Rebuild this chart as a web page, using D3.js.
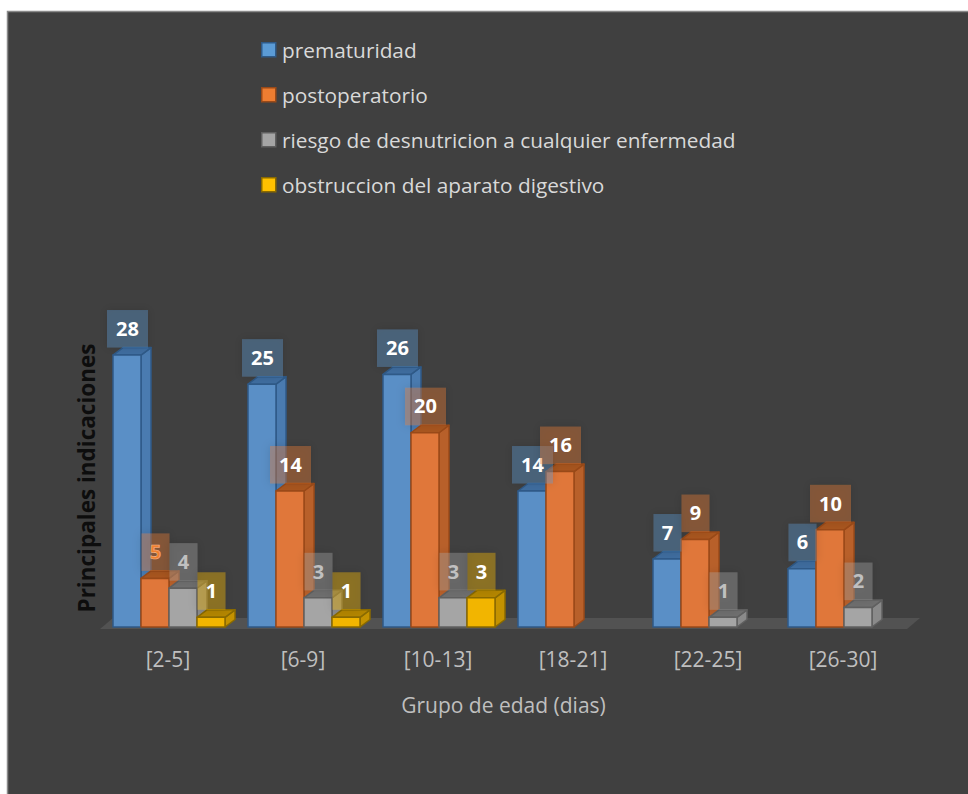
<!DOCTYPE html>
<html>
<head>
<meta charset="utf-8">
<script src="https://cdn.jsdelivr.net/npm/d3@7"></script>
<style>
  html, body { margin: 0; padding: 0; background: #ffffff; }
  svg { display: block; }
  text { font-family: "Open Sans", Lato, sans-serif; }
</style>
</head>
<body>
<svg id="chart" width="968" height="794"></svg>
<script>
// Age groups (days) and the four indication series
const categories = ["[2-5]", "[6-9]", "[10-13]", "[18-21]", "[22-25]", "[26-30]"];
const seriesNames = [
  "prematuridad",
  "postoperatorio",
  "riesgo de desnutricion a cualquier enfermedad",
  "obstruccion del aparato digestivo"
];
const prematuridad   = [28, 25, 26, 14, 7, 6];
const postoperatorio = [5, 14, 20, 16, 9, 10];
const riesgo         = [4, 3, 3, null, 1, 2];
const obstruccion    = [1, 1, 3, null, null, null];
const seriesValues = [prematuridad, postoperatorio, riesgo, obstruccion];

const xTitle = "Grupo de edad (dias)";
const yTitle = "Principales indicaciones";

// Face colours per series: front, side, top, edge, label box, label text
const palette = [
  { front: "#5a8fc6", side: "#4a7bb0", top: "#3f6d9f", edge: "#2f5a88", box: "#5b9bd5", text: "#ffffff" },
  { front: "#e0773a", side: "#b8602a", top: "#a9561f", edge: "#9a4a18", box: "#ed7d31", text: "#ffffff" },
  { front: "#a5a5a5", side: "#8a8a8a", top: "#6f6f6f", edge: "#606060", box: "#a5a5a5", text: "#c0c0c0" },
  { front: "#f2b500", side: "#c49200", top: "#b48600", edge: "#8a6a00", box: "#ffc000", text: "#ffffff" }
];

const svg = d3.select("#chart");
const W = 968, H = 794;

// Panel background with its thin border
svg.append("rect")
  .attr("x", 7.5).attr("y", 11.5)
  .attr("width", W).attr("height", H)
  .attr("fill", "#404040")
  .attr("stroke", "#8a8a8a").attr("stroke-width", 1.5);

const base = 627;            // front baseline of the bars
const depth = { dx: 10, dy: 7.5 };

const x = d3.scaleBand().domain(categories).range([101.5, 911.5]);
const inner = d3.scaleBand().domain(d3.range(seriesNames.length))
  .range([11.5, 11.5 + 28 * seriesNames.length]);
const y = d3.scaleLinear().domain([0, 30]).range([base, base - 291.4]);

const defs = svg.append("defs");
const shadow = defs.append("filter").attr("id", "soft")
  .attr("x", "-40%").attr("y", "-40%").attr("width", "180%").attr("height", "180%");
shadow.append("feDropShadow").attr("dx", 0).attr("dy", 0)
  .attr("stdDeviation", 5).attr("flood-color", "#000").attr("flood-opacity", 0.35);

// Floor plane
const [r0, r1] = x.range();
const floorD = { dx: 13, dy: 11 };
svg.append("polygon")
  .attr("points", [
    [r0 - 1.5, base + 2],
    [r0 - 1.5 + floorD.dx, base + 2 - floorD.dy],
    [r1 + 8.5, base + 2 - floorD.dy],
    [r1 + 8.5 - floorD.dx, base + 2]
  ].map(p => p.join(",")).join(" "))
  .attr("fill", "#525252");

// Flatten into drawable points, left to right so nearer faces overlap correctly
const points = [];
categories.forEach((c, ci) => {
  seriesValues.forEach((vals, si) => {
    const v = vals[ci];
    if (v == null) return;
    points.push({ c, si, v, x0: x(c) + inner(si), w: inner.bandwidth() });
  });
});

const bars = svg.append("g").attr("class", "bars");
points.forEach(p => {
  const col = palette[p.si];
  const x0 = p.x0, x1 = p.x0 + p.w, yt = y(p.v);
  const g = bars.append("g").attr("stroke", col.edge).attr("stroke-width", 1.5)
    .attr("stroke-linejoin", "round");
  // side face
  g.append("polygon")
    .attr("points", [[x1, yt], [x1 + depth.dx, yt - depth.dy], [x1 + depth.dx, base - depth.dy], [x1, base]]
      .map(q => q.join(",")).join(" "))
    .attr("fill", col.side);
  // top face
  g.append("polygon")
    .attr("points", [[x0, yt], [x0 + depth.dx, yt - depth.dy], [x1 + depth.dx, yt - depth.dy], [x1, yt]]
      .map(q => q.join(",")).join(" "))
    .attr("fill", col.top);
  // front face
  g.append("rect")
    .attr("x", x0).attr("y", yt)
    .attr("width", p.w).attr("height", base - yt)
    .attr("fill", col.front);
});

// Value labels in tinted boxes above each bar
const labels = svg.append("g").attr("class", "labels");
points.forEach(p => {
  const col = palette[p.si];
  const txt = String(p.v);
  const bw = txt.length > 1 ? 41 : 28;
  const bh = 37.5;
  const cx = p.x0 + p.w / 2 + 0.5;
  const yb = y(p.v) - depth.dy;
  const g = labels.append("g");
  g.append("rect")
    .attr("x", cx - bw / 2).attr("y", yb - bh)
    .attr("width", bw).attr("height", bh)
    .attr("fill", col.box).attr("fill-opacity", 0.36)
    .attr("filter", "url(#soft)");
  // the lone small postoperatorio value in the first group is printed in its series colour
  const isFirstSmallOrange = p.si === 1 && p.c === categories[0];
  g.append("text")
    .attr("x", cx).attr("y", yb - bh / 2 + 7)
    .attr("text-anchor", "middle")
    .attr("font-size", 20).attr("font-weight", "bold")
    .attr("fill", isFirstSmallOrange ? "#f08030" : col.text)
    .attr("stroke", isFirstSmallOrange ? "#f5b890" : "none")
    .attr("stroke-width", isFirstSmallOrange ? 0.6 : 0)
    .text(txt);
});

// Category axis labels
svg.append("g").selectAll("text").data(categories).join("text")
  .attr("x", d => x(d) + x.bandwidth() / 2 - 1)
  .attr("y", 667)
  .attr("text-anchor", "middle")
  .attr("font-size", 21)
  .attr("fill", "#bfbfbf")
  .text(d => d);

// Axis titles
svg.append("text")
  .attr("x", (r0 + r1) / 2 - 3).attr("y", 713)
  .attr("text-anchor", "middle")
  .attr("font-size", 21)
  .attr("fill", "#bfbfbf")
  .text(xTitle);

svg.append("text")
  .attr("transform", "translate(95,478) rotate(-90)")
  .attr("text-anchor", "middle")
  .attr("font-size", 22.5).attr("font-weight", "bold")
  .attr("fill", "#0d0d0d")
  .text(yTitle);

// Legend
const legend = svg.append("g").selectAll("g").data(seriesNames).join("g")
  .attr("transform", (d, i) => `translate(261,${42 + i * 45})`);
legend.append("rect")
  .attr("x", 0.75).attr("y", 0.75).attr("width", 14).attr("height", 14)
  .attr("fill", (d, i) => palette[i].box)
  .attr("stroke", (d, i) => palette[i].edge).attr("stroke-width", 1.5);
legend.append("text")
  .attr("x", 21).attr("y", 15.5)
  .attr("font-size", 20.8)
  .attr("fill", "#d9d9d9")
  .text(d => d);
</script>
</body>
</html>
